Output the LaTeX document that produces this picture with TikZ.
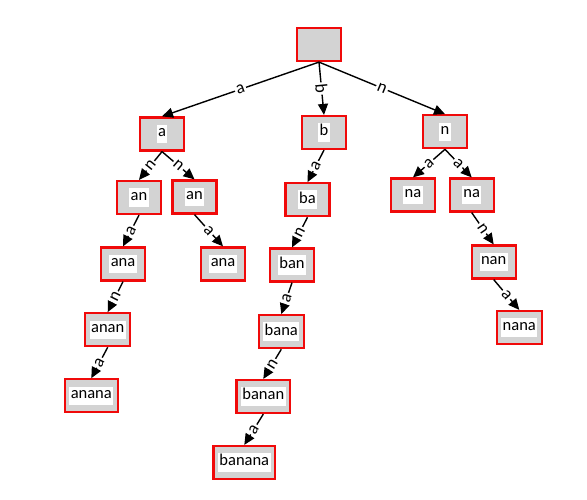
\documentclass[tikz,border=0pt]{standalone}
\usepackage{fontspec}
\setmainfont{Carlito}
\usetikzlibrary{arrows.meta}
\definecolor{boxgray}{RGB}{211,211,211}
\definecolor{boxred}{RGB}{240,10,10}
\newcommand{\wb}[1]{{\setlength{\fboxsep}{1.4pt}\colorbox{white}{\rule[-4.8pt]{0pt}{15.5pt}#1}}}
\tikzset{
  trie/.style={draw=boxred, line width=2.2pt, fill=boxgray, minimum width=44pt, minimum height=33pt, inner xsep=4.5pt, inner ysep=0pt, font=\fontsize{16.5}{19}\selectfont},
  tedge/.style={line width=1.4pt, -{Triangle[length=11pt,width=10pt]}},
  tlab/.style={sloped, fill=white, inner sep=1.5pt, font=\fontsize{17.5}{20}\selectfont}
}
\begin{document}
\begin{tikzpicture}[x=1pt,y=1pt]
\useasboundingbox (0,0) rectangle (587,-499);
\node[trie] (root) at (319,-44.5) {};
\node[trie] (a) at (162,-134) {\wb{a}};
\node[trie] (b) at (324,-132.5) {\wb{b}};
\node[trie] (n) at (445,-131.7) {\wb{n}};
\node[trie] (an1) at (139,-197.5) {\wb{an}};
\node[trie] (an2) at (194.5,-197) {\wb{an}};
\node[trie] (ba) at (307.5,-199.7) {\wb{ba}};
\node[trie] (na1) at (413,-195) {\wb{na}};
\node[trie] (na2) at (471.7,-195) {\wb{na}};
\node[trie] (ana1) at (123,-264) {\wb{ana}};
\node[trie] (ana2) at (223,-264) {\wb{ana}};
\node[trie] (ban) at (292,-265) {\wb{ban}};
\node[trie] (nan) at (493.7,-262) {\wb{nan}};
\node[trie] (anan) at (107.7,-329.7) {\wb{anan}};
\node[trie] (bana) at (281.3,-331.7) {\wb{bana}};
\node[trie] (nana) at (519.3,-327.5) {\wb{nana}};
\node[trie] (anana) at (91.3,-395.8) {\wb{anana}};
\node[trie] (banan) at (263.3,-396.5) {\wb{banan}};
\node[trie] (banana) at (244.3,-462.5) {\wb{banana}};
\draw[tedge] (root.south) -- node[tlab]{a} (a.north);
\draw[tedge] (root.south) -- node[tlab]{b} (b.north);
\draw[tedge] (root.south) -- node[tlab]{n} (n.north);
\draw[tedge] (a.south) -- node[tlab]{n} (an1.north);
\draw[tedge] (a.south) -- node[tlab]{n} (an2.north);
\draw[tedge] (an1.south) -- node[tlab]{a} (ana1.north);
\draw[tedge] (an2.south) -- node[tlab]{a} (ana2.north);
\draw[tedge] (ana1.south) -- node[tlab]{n} (anan.north);
\draw[tedge] (anan.south) -- node[tlab]{a} (anana.north);
\draw[tedge] (b.south) -- node[tlab]{a} (ba.north);
\draw[tedge] (ba.south) -- node[tlab]{n} (ban.north);
\draw[tedge] (ban.south) -- node[tlab]{a} (bana.north);
\draw[tedge] (bana.south) -- node[tlab]{n} (banan.north);
\draw[tedge] (banan.south) -- node[tlab]{a} (banana.north);
\draw[tedge] (n.south) -- node[tlab]{a} (na1.north);
\draw[tedge] (n.south) -- node[tlab]{a} (na2.north);
\draw[tedge] (na2.south) -- node[tlab]{n} (nan.north);
\draw[tedge] (nan.south) -- node[tlab]{a} (nana.north);
\end{tikzpicture}
\end{document}
